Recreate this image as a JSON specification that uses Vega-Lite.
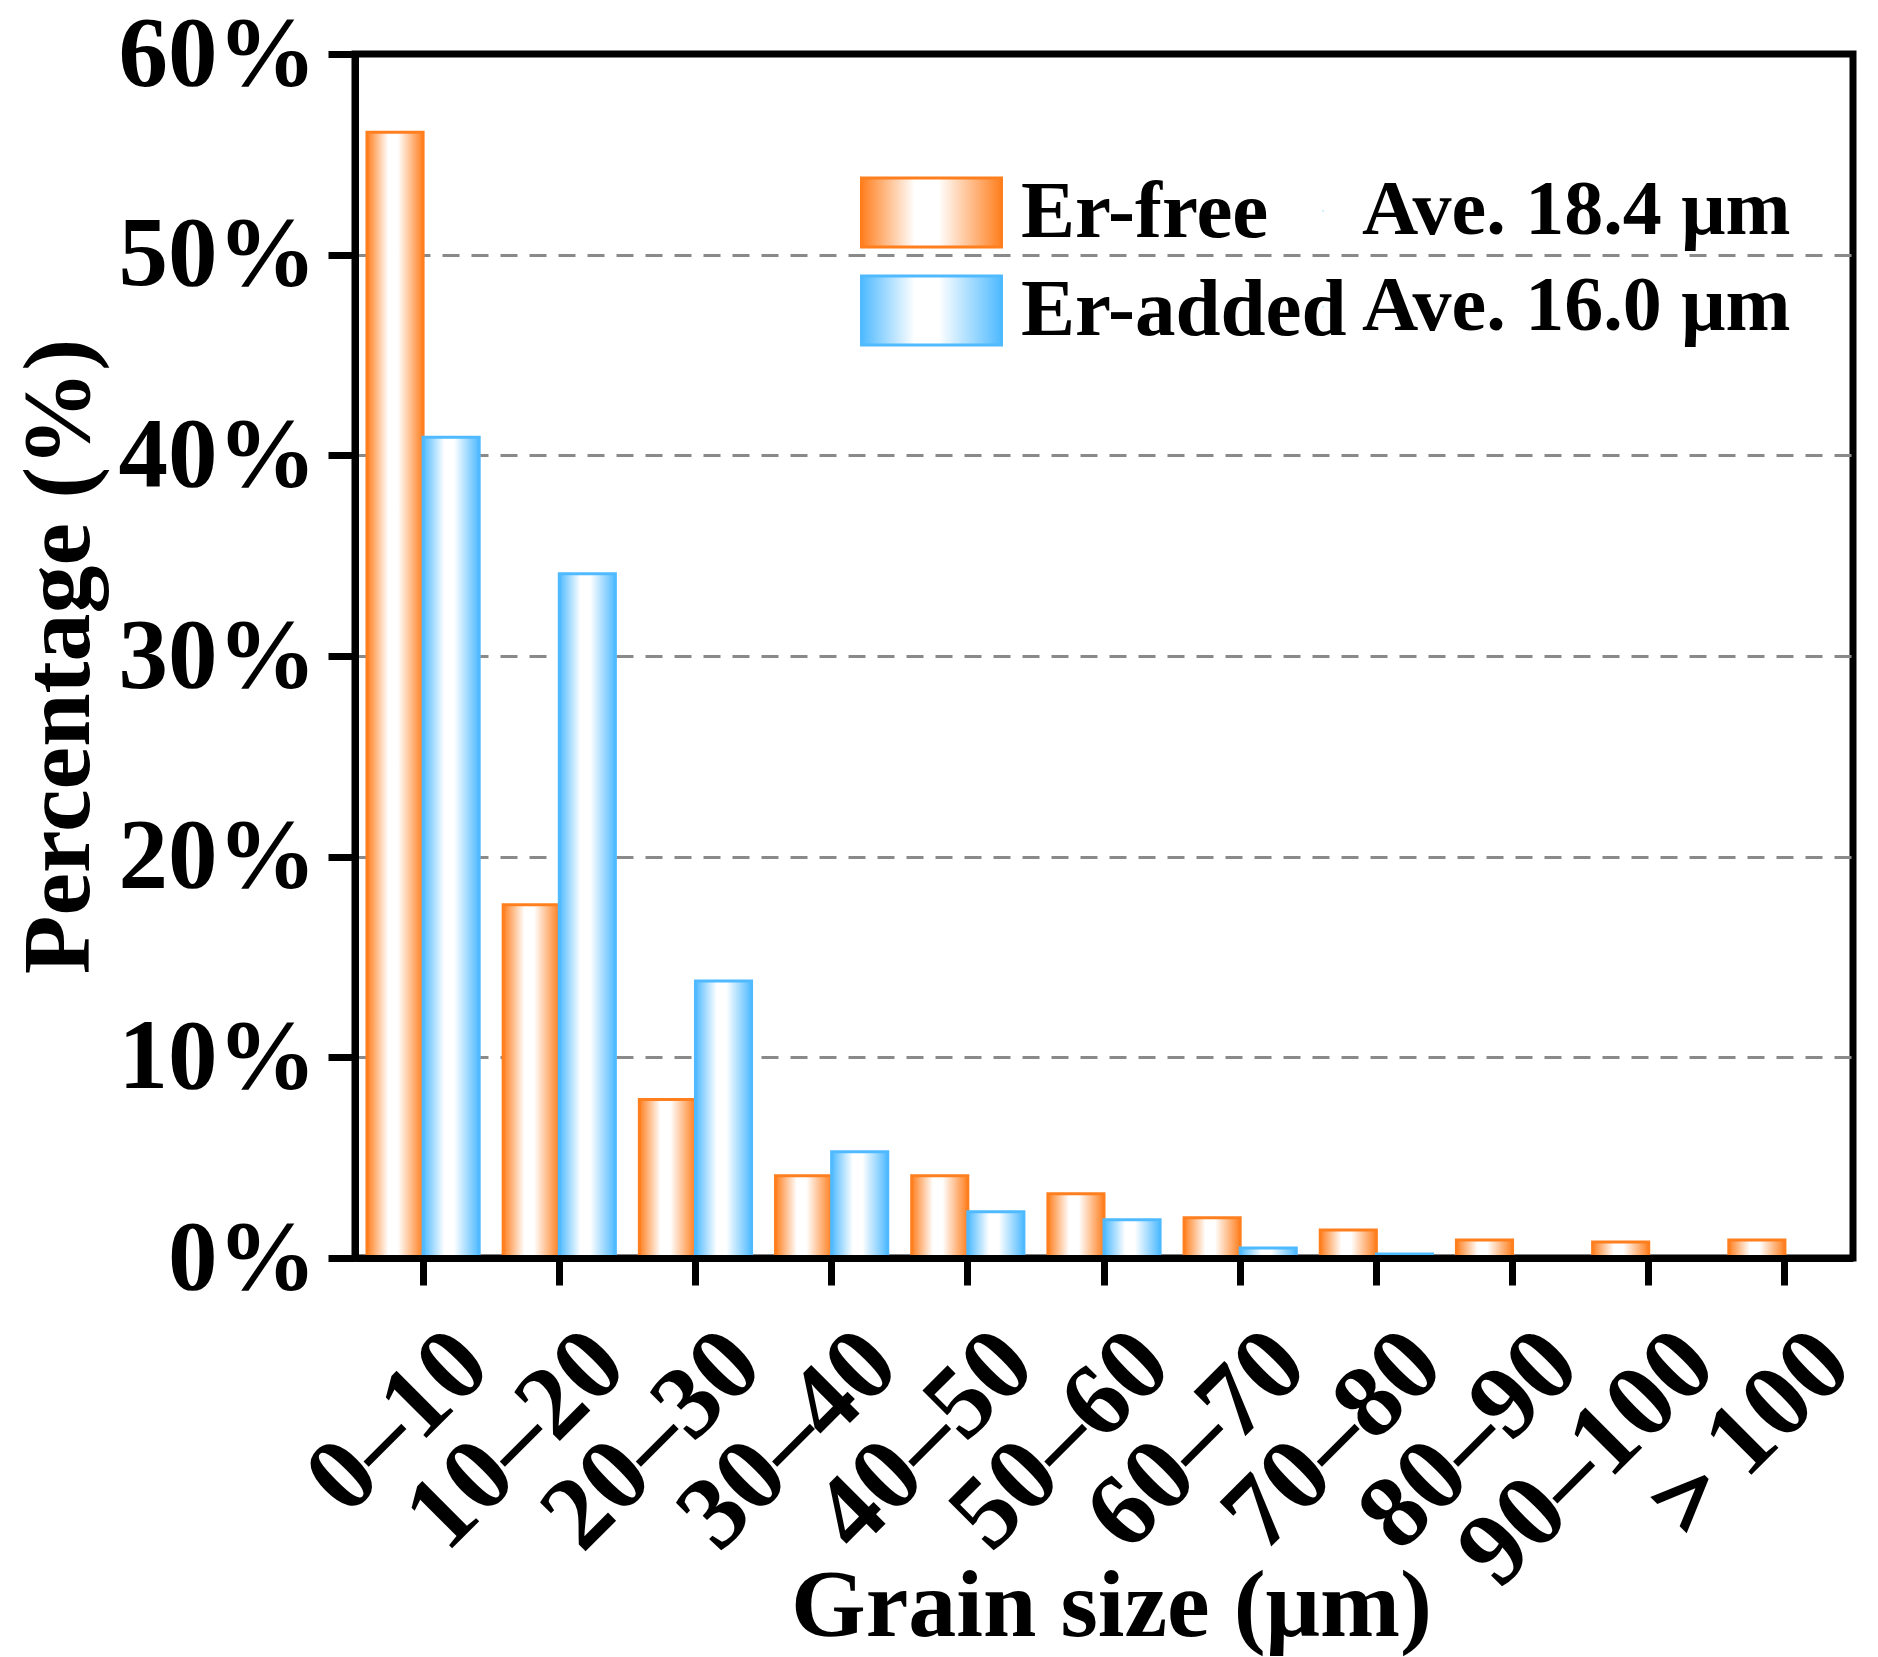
{
  "$schema": "https://vega.github.io/schema/vega-lite/v6.json",
  "width": 1498,
  "height": 1204,
  "autosize": {"type": "none"},
  "padding": {"left": 355, "top": 54, "right": 25, "bottom": 399},
  "background": "white",
  "data": {
    "values": [
      {"bin": "0–10", "series": "Er-free", "pct": 56.1, "ave": "Ave. 18.4 μm"},
      {"bin": "0–10", "series": "Er-added", "pct": 40.9, "ave": "Ave. 16.0 μm"},
      {"bin": "10–20", "series": "Er-free", "pct": 17.6, "ave": "Ave. 18.4 μm"},
      {"bin": "10–20", "series": "Er-added", "pct": 34.1, "ave": "Ave. 16.0 μm"},
      {"bin": "20–30", "series": "Er-free", "pct": 7.9, "ave": "Ave. 18.4 μm"},
      {"bin": "20–30", "series": "Er-added", "pct": 13.8, "ave": "Ave. 16.0 μm"},
      {"bin": "30–40", "series": "Er-free", "pct": 4.1, "ave": "Ave. 18.4 μm"},
      {"bin": "30–40", "series": "Er-added", "pct": 5.3, "ave": "Ave. 16.0 μm"},
      {"bin": "40–50", "series": "Er-free", "pct": 4.1, "ave": "Ave. 18.4 μm"},
      {"bin": "40–50", "series": "Er-added", "pct": 2.3, "ave": "Ave. 16.0 μm"},
      {"bin": "50–60", "series": "Er-free", "pct": 3.2, "ave": "Ave. 18.4 μm"},
      {"bin": "50–60", "series": "Er-added", "pct": 1.9, "ave": "Ave. 16.0 μm"},
      {"bin": "60–70", "series": "Er-free", "pct": 2.0, "ave": "Ave. 18.4 μm"},
      {"bin": "60–70", "series": "Er-added", "pct": 0.5, "ave": "Ave. 16.0 μm"},
      {"bin": "70–80", "series": "Er-free", "pct": 1.4, "ave": "Ave. 18.4 μm"},
      {"bin": "70–80", "series": "Er-added", "pct": 0.2, "ave": "Ave. 16.0 μm"},
      {"bin": "80–90", "series": "Er-free", "pct": 0.9, "ave": "Ave. 18.4 μm"},
      {"bin": "90–100", "series": "Er-free", "pct": 0.8, "ave": "Ave. 18.4 μm"},
      {"bin": "＞100", "series": "Er-free", "pct": 0.9, "ave": "Ave. 18.4 μm"}
    ]
  },
  "mark": {"type": "bar", "strokeWidth": 3},
  "encoding": {
    "x": {
      "field": "bin",
      "type": "nominal",
      "sort": null,
      "scale": {
        "domain": ["0–10", "10–20", "20–30", "30–40", "40–50", "50–60", "60–70", "70–80", "80–90", "90–100", "＞100"],
        "paddingInner": 0.176,
        "paddingOuter": 0.088
      },
      "axis": {
        "title": "Grain size (μm)",
        "labelAngle": -45,
        "labelAlign": "right",
        "labelBaseline": "middle",
        "labelOffset": 49,
        "labelPadding": 63,
        "labelFontSize": 104,
        "labelLimit": 0,
        "labelOverlap": false,
        "titleX": 756,
        "titleY": 377,
        "titleAlign": "center",
        "titleBaseline": "alphabetic",
        "grid": false,
        "zindex": 1
      }
    },
    "xOffset": {
      "field": "series",
      "type": "nominal",
      "scale": {"domain": ["Er-free", "Er-added"], "paddingInner": 0, "paddingOuter": 0}
    },
    "y": {
      "field": "pct",
      "type": "quantitative",
      "scale": {"domain": [0, 60], "nice": false},
      "axis": {
        "title": "Percentage (%)",
        "values": [0, 10, 20, 30, 40, 50, 60],
        "labelExpr": "datum.value + '%'",
        "labelFontSize": 99,
        "labelPadding": 12,
        "labelLimit": 0,
        "titleX": -267,
        "titleY": 602,
        "titleAngle": -90,
        "titleAlign": "center",
        "titleBaseline": "alphabetic",
        "grid": true,
        "gridColor": "#8a8a8a",
        "gridWidth": 3,
        "gridDash": [17, 12],
        "gridOpacity": {"condition": {"test": "datum.value === 0 || datum.value === 60", "value": 0}, "value": 1}
      }
    },
    "fill": {
      "condition": {
        "test": "datum.series === 'Er-free'",
        "value": {
          "gradient": "linear", "x1": 0, "y1": 0, "x2": 1, "y2": 0,
          "stops": [
            {"offset": 0, "color": "#FF7F1F"},
            {"offset": 0.38, "color": "#FFFFFF"},
            {"offset": 0.55, "color": "#FFFFFF"},
            {"offset": 1, "color": "#FF7F1F"}
          ]
        }
      },
      "value": {
        "gradient": "linear", "x1": 0, "y1": 0, "x2": 1, "y2": 0,
        "stops": [
          {"offset": 0, "color": "#4FBAFF"},
          {"offset": 0.38, "color": "#FFFFFF"},
          {"offset": 0.55, "color": "#FFFFFF"},
          {"offset": 1, "color": "#4FBAFF"}
        ]
      }
    },
    "stroke": {
      "field": "series",
      "type": "nominal",
      "scale": {"domain": ["Er-free", "Er-added"], "range": ["#FF7F1F", "#4FBAFF"]},
      "legend": {
        "orient": "none",
        "legendX": 536,
        "legendY": 118,
        "title": null,
        "symbolType": "M-2,-0.986H2V0.986H-2Z",
        "symbolSize": 4900,
        "symbolStrokeWidth": 3,
        "labelFont": "Liberation Serif",
        "labelFontWeight": "bold",
        "labelFontSize": 81,
        "labelColor": "black",
        "labelLimit": 0,
        "labelOffset": 49,
        "rowPadding": 15,
        "encoding": {
          "symbols": {
            "fill": {
              "condition": {
                "test": "datum.value === 'Er-free'",
                "value": {
                  "gradient": "linear", "x1": 0, "y1": 0, "x2": 1, "y2": 0,
                  "stops": [
                    {"offset": 0, "color": "#FF7F1F"},
                    {"offset": 0.38, "color": "#FFFFFF"},
                    {"offset": 0.55, "color": "#FFFFFF"},
                    {"offset": 1, "color": "#FF7F1F"}
                  ]
                }
              },
              "value": {
                "gradient": "linear", "x1": 0, "y1": 0, "x2": 1, "y2": 0,
                "stops": [
                  {"offset": 0, "color": "#4FBAFF"},
                  {"offset": 0.38, "color": "#FFFFFF"},
                  {"offset": 0.55, "color": "#FFFFFF"},
                  {"offset": 1, "color": "#4FBAFF"}
                ]
              }
            }
          }
        }
      }
    },
    "opacity": {
      "field": "ave",
      "type": "ordinal",
      "scale": {"domain": ["Ave. 18.4 μm", "Ave. 16.0 μm"], "range": [1, 1]},
      "legend": {
        "orient": "none",
        "legendX": 929,
        "legendY": 118,
        "title": null,
        "symbolSize": 1,
        "symbolOpacity": 0,
        "symbolStrokeWidth": 0,
        "labelOffset": 0,
        "labelFont": "Liberation Serif",
        "labelFontWeight": "bold",
        "labelFontSize": 78,
        "labelColor": "black",
        "labelLimit": 0,
        "rowPadding": 18
      }
    }
  },
  "config": {
    "view": {"stroke": "black", "strokeWidth": 7},
    "axis": {
      "labelFont": "Liberation Serif",
      "labelFontWeight": "bold",
      "labelColor": "black",
      "titleFont": "Liberation Serif",
      "titleFontWeight": "bold",
      "titleFontSize": 96,
      "titleColor": "black",
      "domainColor": "black",
      "domainWidth": 7,
      "tickColor": "black",
      "tickWidth": 7,
      "tickSize": 27
    }
  }
}
